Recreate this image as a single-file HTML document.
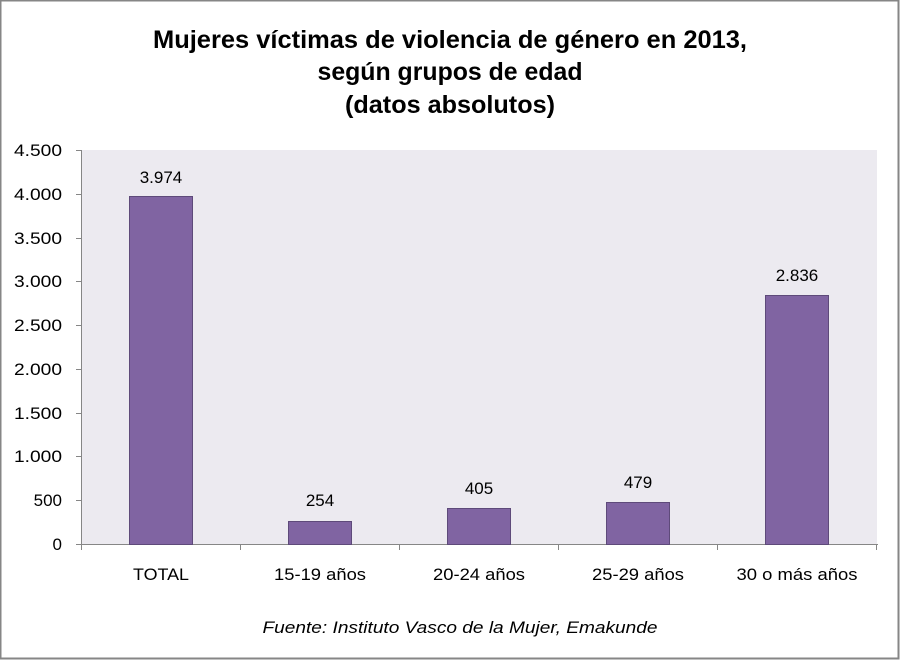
<!DOCTYPE html>
<html><head><meta charset="utf-8"><style>body{margin:0;background:#fff}svg{display:block}</style></head><body>
<svg width="900" height="660" viewBox="0 0 900 660" xmlns="http://www.w3.org/2000/svg" font-family="'Liberation Sans', sans-serif">
<rect x="0.5" y="0.5" width="898" height="658" fill="#fff" stroke="#868686" stroke-width="2"/>
<g font-weight="bold" font-size="25" text-anchor="middle" fill="#000">
<text x="450" y="48" textLength="594" lengthAdjust="spacingAndGlyphs">Mujeres víctimas de violencia de género en 2013,</text>
<text x="450" y="80" textLength="265" lengthAdjust="spacingAndGlyphs">según grupos de edad</text>
<text x="450" y="113" textLength="210" lengthAdjust="spacingAndGlyphs">(datos absolutos)</text>
</g>
<rect x="82" y="150" width="795" height="394" fill="#ECEAF0"/>
<g stroke="#868686" stroke-width="1">
<line x1="81.5" y1="150" x2="81.5" y2="545"/>
<line x1="81" y1="544.5" x2="878" y2="544.5"/>
<line x1="76" y1="150.5" x2="82" y2="150.5"/><line x1="76" y1="194.5" x2="82" y2="194.5"/><line x1="76" y1="238.5" x2="82" y2="238.5"/><line x1="76" y1="281.5" x2="82" y2="281.5"/><line x1="76" y1="325.5" x2="82" y2="325.5"/><line x1="76" y1="369.5" x2="82" y2="369.5"/><line x1="76" y1="413.5" x2="82" y2="413.5"/><line x1="76" y1="456.5" x2="82" y2="456.5"/><line x1="76" y1="500.5" x2="82" y2="500.5"/><line x1="76" y1="544.5" x2="82" y2="544.5"/>
<line x1="81.5" y1="544" x2="81.5" y2="550"/><line x1="240.5" y1="544" x2="240.5" y2="550"/><line x1="399.5" y1="544" x2="399.5" y2="550"/><line x1="558.5" y1="544" x2="558.5" y2="550"/><line x1="717.5" y1="544" x2="717.5" y2="550"/><line x1="876.5" y1="544" x2="876.5" y2="550"/>
</g>
<g fill="#8064A2" stroke="#5E4A7A" stroke-width="1">
<rect x="129.5" y="196.5" width="63" height="348"/>
<rect x="288.5" y="521.5" width="63" height="23"/>
<rect x="447.5" y="508.5" width="63" height="36"/>
<rect x="606.5" y="502.5" width="63" height="42"/>
<rect x="765.5" y="295.5" width="63" height="249"/>
</g>
<g font-size="17" text-anchor="end" fill="#000">
<text x="62" y="156" textLength="48" lengthAdjust="spacingAndGlyphs">4.500</text><text x="62" y="200" textLength="48" lengthAdjust="spacingAndGlyphs">4.000</text><text x="62" y="244" textLength="48" lengthAdjust="spacingAndGlyphs">3.500</text><text x="62" y="287" textLength="48" lengthAdjust="spacingAndGlyphs">3.000</text><text x="62" y="331" textLength="48" lengthAdjust="spacingAndGlyphs">2.500</text><text x="62" y="375" textLength="48" lengthAdjust="spacingAndGlyphs">2.000</text><text x="62" y="419" textLength="48" lengthAdjust="spacingAndGlyphs">1.500</text><text x="62" y="462" textLength="48" lengthAdjust="spacingAndGlyphs">1.000</text><text x="62" y="506">500</text><text x="62" y="550">0</text>
</g>
<g font-size="17" text-anchor="middle" fill="#000">
<text x="161" y="183">3.974</text><text x="320" y="506">254</text><text x="479" y="494">405</text><text x="638" y="488">479</text><text x="797" y="281">2.836</text>
<text x="161" y="580" textLength="56" lengthAdjust="spacingAndGlyphs">TOTAL</text>
<text x="320" y="580" textLength="92" lengthAdjust="spacingAndGlyphs">15-19 años</text>
<text x="479" y="580" textLength="92" lengthAdjust="spacingAndGlyphs">20-24 años</text>
<text x="638" y="580" textLength="92" lengthAdjust="spacingAndGlyphs">25-29 años</text>
<text x="797" y="580" textLength="121" lengthAdjust="spacingAndGlyphs">30 o más años</text>
<text x="460" y="633" font-style="italic" textLength="395" lengthAdjust="spacingAndGlyphs">Fuente: Instituto Vasco de la Mujer, Emakunde</text>
</g>
</svg>
</body></html>
